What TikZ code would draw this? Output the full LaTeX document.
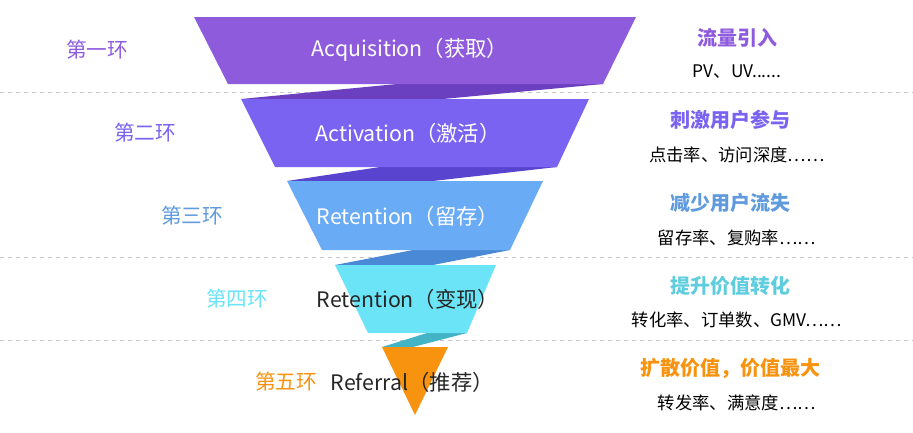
\documentclass[tikz,border=0pt]{standalone}
\usepackage{fontspec}
\setmainfont{Noto Sans CJK SC}
\begin{document}
\begin{tikzpicture}[x=0.75pt,y=-0.75pt,
  lbl/.style={font=\fontsize{15.5}{18}\selectfont},
  ctr/.style={font=\fontsize{16}{19}\selectfont},
  ttl/.style={font=\fontsize{15}{18}\selectfont\bfseries},
  sub/.style={font=\fontsize{13}{15}\selectfont},
  sep/.style={gray!45,dashed,line width=0.5pt}]
\useasboundingbox (0,0) rectangle (913,432);
\definecolor{c1}{HTML}{8F5BDD}\definecolor{b1}{HTML}{6A3FC0}
\definecolor{c2}{HTML}{7B63F2}\definecolor{b2}{HTML}{5944CF}
\definecolor{c3}{HTML}{6AABF6}\definecolor{b3}{HTML}{4A89D6}
\definecolor{c4}{HTML}{6BE4F8}\definecolor{b4}{HTML}{43B3C6}
\definecolor{c5}{HTML}{F7930F}
\draw[sep] (0,92) -- (913,92);
\draw[sep] (0,257) -- (913,257);
\draw[sep] (0,340) -- (913,340);
% bands
\fill[b1] (397,84) -- (603,84) -- (443,99) -- (241,99) -- cycle;
\fill[b2] (380,167) -- (557,167) -- (433,181) -- (287,181) -- cycle;
\fill[b3] (413,250) -- (510,250) -- (433,265) -- (335,265) -- cycle;
\fill[b4] (427,333) -- (467,333) -- (413,347) -- (382,347) -- cycle;
% layers
\fill[c1] (194,17) -- (636,17) -- (603,84) -- (228,84) -- cycle;
\fill[c2] (241,99) -- (589,99) -- (557,167) -- (275,167) -- cycle;
\fill[c3] (287,181) -- (543,181) -- (510,250) -- (322,250) -- cycle;
\fill[c4] (335,265) -- (496,265) -- (467,333) -- (368,333) -- cycle;
\fill[c5] (382,347) -- (448,347) -- (415,415) -- cycle;
% center text
\node[ctr,white] (t1) at (410,50) {Acquisition（获取）};
\node[ctr,white] (t2) at (408,133) {Activation（激活）};
\node[ctr,white] (t3) at (408,216) {Retention（留存）};
\node[ctr,black!85] (t4) at (408,299) {Retention（变现）};
\node[ctr,black!85,anchor=west] (t5) at (326,382) {Referral（推荐）};
% left labels
\node[lbl,c1] (l1) at (97,50) {第一环};
\node[lbl,c2] (l2) at (145,133) {第二环};
\node[lbl,c3!90!black] (l3) at (192,216) {第三环};
\node[lbl,c4] (l4) at (237,299) {第四环};
\node[lbl,c5] (l5) at (286,382) {第五环};
% right
\node[ttl,c1] (r1) at (737,38) {流量引入};
\node[sub] (s1) at (737,72) {PV、UV......};
\node[ttl,c2] (r2) at (730,120) {刺激用户参与};
\node[sub] (s2) at (737,155) {点击率、访问深度……};
\node[ttl,c3!90!black] (r3) at (730,203) {减少用户流失};
\node[sub] (s3) at (737,238) {留存率、复购率……};
\node[ttl,c4!90!black] (r4) at (730,286) {提升价值转化};
\node[sub] (s4) at (737,320) {转化率、订单数、GMV……};
\node[ttl,c5] (r5) at (730,368) {扩散价值，价值最大};
\node[sub] (s5) at (737,403) {转发率、满意度……};
\end{tikzpicture}
\end{document}
